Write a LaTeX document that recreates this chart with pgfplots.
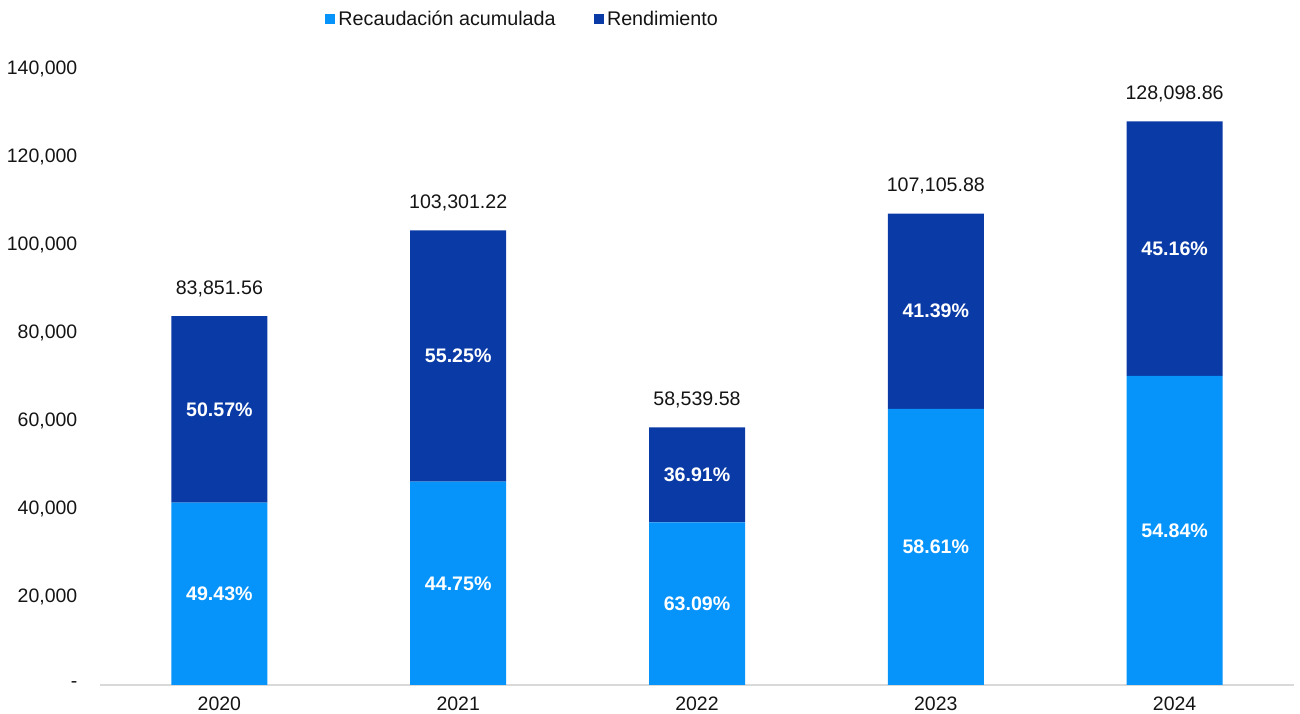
\documentclass[border=0pt]{standalone}
\usepackage{pgfplots}
\usepackage{pgfplotstable}
\pgfplotsset{compat=1.18}
\usepackage{fontspec}
\setmainfont{Liberation Sans}
\definecolor{lightb}{RGB}{6,148,251}
\definecolor{darkb}{RGB}{10,58,166}
\definecolor{axisgray}{RGB}{217,217,217}
\definecolor{txt}{RGB}{20,20,20}

% bottom/top segment values, their mid-heights (label positions) and totals
\pgfplotstableread{
x recaud rend midbot midtop pbot ptop totalv total
0 41447.83 42403.73 20723.92 62649.70 49.43 50.57 83851.56 83,851.56
1 46227.30 57073.92 23113.65 74764.26 44.75 55.25 103301.22 103,301.22
2 36932.62 21606.96 18466.31 47736.10 63.09 36.91 58539.58 58,539.58
3 62774.76 44331.12 31387.38 84940.32 58.61 41.39 107105.88 107,105.88
4 70249.41 57849.45 35124.71 99174.14 54.84 45.16 128098.86 128,098.86
}\datatable

\pgfplotsset{
  common/.style={
    at={(75pt,21.75pt)}, anchor=south west, scale only axis,
    width=895.5pt, height=462pt,
    xmin=-0.5, xmax=4.5, ymin=0, ymax=140000,
  }
}

\begin{document}
\begin{tikzpicture}
\path[use as bounding box] (0,0) rectangle (975pt,535.5pt);
\begin{axis}[
  common,
  ybar stacked, bar width=72pt,
  scaled y ticks=false,
  xtick={0,1,2,3,4}, xticklabels={2020,2021,2022,2023,2024},
  ytick={0,20000,40000,60000,80000,100000,120000,140000},
  yticklabels={-,{20,000},{40,000},{60,000},{80,000},{100,000},{120,000},{140,000}},
  axis x line*=bottom, axis y line*=left,
  x axis line style={axisgray, line width=1.2pt},
  y axis line style={draw=none},
  tick style={draw=none},
  tick label style={font=\fontsize{14.6}{16}\selectfont, text=txt},
  yticklabel style={xshift=-13.5pt},
  xticklabel style={inner ysep=0.5pt, yshift=-8pt},
  legend style={at={(0.185,1.081)}, anchor=west, draw=none, fill=none,
    legend columns=2, font=\fontsize{14.8}{16}\selectfont, text=txt,
    nodes={inner xsep=2.5pt},
    /tikz/every even column/.append style={column sep=26pt}},
  legend image code/.code={\fill[#1] (0pt,-3.75pt) rectangle (7.5pt,3.75pt);},
]
\addplot[fill=lightb, draw=none] table[x=x, y=recaud] {\datatable};
\addlegendentry{Recaudación acumulada}
\addplot[fill=darkb, draw=none] table[x=x, y=rend] {\datatable};
\addlegendentry{Rendimiento}
\end{axis}
\begin{axis}[common, hide axis]
\addplot[only marks, mark=none,
  nodes near coords={\pgfplotspointmeta\%}, point meta=explicit symbolic,
  every node near coord/.append style={anchor=center,
    text=white, font=\fontsize{14.7}{16}\selectfont\bfseries}]
  table[x=x, y=midbot, meta=pbot] {\datatable};
\addplot[only marks, mark=none,
  nodes near coords={\pgfplotspointmeta\%}, point meta=explicit symbolic,
  every node near coord/.append style={anchor=center,
    text=white, font=\fontsize{14.7}{16}\selectfont\bfseries}]
  table[x=x, y=midtop, meta=ptop] {\datatable};
\addplot[only marks, mark=none,
  nodes near coords, point meta=explicit symbolic,
  every node near coord/.append style={anchor=center, yshift=20.5pt,
    text=txt, font=\fontsize{14.7}{16}\selectfont}]
  table[x=x, y=totalv, meta=total] {\datatable};
\end{axis}
\end{tikzpicture}
\end{document}
